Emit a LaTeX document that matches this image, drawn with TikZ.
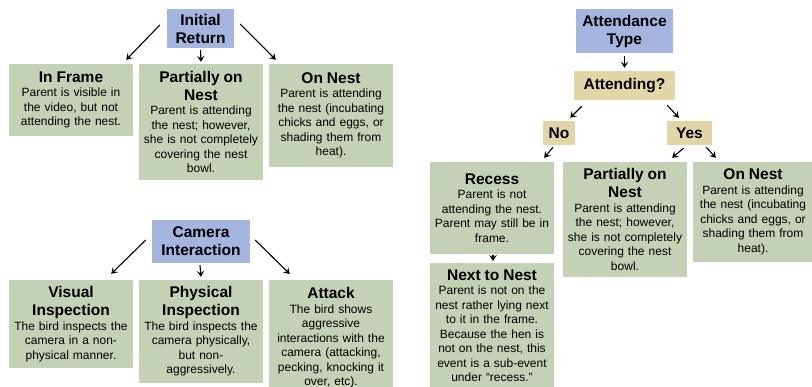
\documentclass[tikz,border=0pt]{standalone}
\usepackage{fontspec}
\setmainfont{Liberation Sans}
\usetikzlibrary{arrows.meta}
\definecolor{hdrblue}{RGB}{164,181,223}
\definecolor{boxgreen}{RGB}{197,209,181}
\definecolor{boxtan}{RGB}{227,214,166}
\newcommand\ttl[1]{{\fontsize{15.5}{18}\selectfont\bfseries #1\par}}
\tikzset{
  base/.style={inner sep=2pt, align=center, font=\fontsize{12}{14.5}\selectfont},
  hdr/.style={base, fill=hdrblue, font=\fontsize{15.5}{18}\selectfont\bfseries},
  qbox/.style={base, fill=boxtan, font=\fontsize{15.5}{18}\selectfont\bfseries},
  gbox/.style={base, fill=boxgreen, text width=120pt, inner sep=2pt},
  arr/.style={line width=1.1pt, -{Stealth[length=6pt,width=7.5pt,inset=2.5pt]}}
}
\begin{document}
\begin{tikzpicture}[x=1pt,y=-1pt]
\useasboundingbox (0,0) rectangle (812,386);
% ---------- Initial Return ----------
\node[hdr, minimum width=67pt, minimum height=39pt] (ir) at (200.5,28.5) {Initial\\Return};
\node[gbox, minimum height=72pt] (inframe) at (71,100) {\ttl{In Frame}Parent is visible in\\the video, but not\\attending the nest.};
\node[gbox, minimum height=116pt] (pon1) at (201,122) {\ttl{Partially on\\Nest}Parent is attending\\the nest; however,\\she is not completely\\covering the nest\\bowl.};
\node[gbox, minimum height=103pt] (on1) at (331,115.5) {\ttl{On Nest}Parent is attending\\the nest (incubating\\chicks and eggs, or\\shading them from\\heat).};
\draw[arr] ([shift={(-7,-3.5)}]ir.west) -- ([shift={(-7,-4)}]inframe.north east);
\draw[arr] ([shift={(0,2)}]ir.south) -- ([shift={(0,-2)}]pon1.north);
\draw[arr] ([shift={(6,-4.5)}]ir.east) -- ([shift={(7,-4)}]on1.north west);
% ---------- Camera Interaction ----------
\node[hdr, minimum width=98pt, minimum height=43pt] (ci) at (201,241.5) {Camera\\Interaction};
\node[gbox, minimum height=88pt] (vis) at (71,324) {\ttl{Visual\\Inspection}The bird inspects the\\camera in a non-\\physical manner.};
\node[gbox, minimum height=103pt] (phys) at (201,331.5) {\ttl{Physical\\Inspection}The bird inspects the\\camera physically,\\but non-\\aggressively.};
\node[gbox, anchor=north, inner ysep=7.5pt] (att) at (331,280) {\ttl{Attack}The bird shows\\aggressive\\interactions with the\\camera (attacking,\\pecking, knocking it\\over, etc).};
\draw[arr] ([shift={(-6,-1.5)}]ci.west) -- ([shift={(-22,-6)}]vis.north east);
\draw[arr] ([shift={(-1,2)}]ci.south) -- ([shift={(0,-3)}]phys.north);
\draw[arr] ([shift={(5,-1.5)}]ci.east) -- ([shift={(21,-6)}]att.north west);
% ---------- Attendance Type ----------
\node[hdr, minimum width=97pt, minimum height=44pt] (at) at (624.5,31) {Attendance\\Type};
\node[qbox, minimum width=101pt, minimum height=29pt] (atq) at (624.5,85.5) {Attending?};
\node[qbox, minimum width=32pt, minimum height=24pt, inner sep=1pt] (no) at (559,133) {No};
\node[qbox, minimum width=45pt, minimum height=24pt, inner sep=1pt] (yes) at (689.5,133) {Yes};
\node[gbox, minimum height=92pt] (rec) at (492,208) {\ttl{Recess}Parent is not\\attending the nest.\\Parent may still be in\\frame.};
\node[gbox, anchor=north, minimum height=125pt] (next) at (492,263) {\ttl{Next to Nest}Parent is not on the\\nest rather lying next\\to it in the frame.\\Because the hen is\\not on the nest, this\\event is a sub-event\\under “recess.”};
\node[gbox, minimum height=115pt] (pon2) at (625,219.5) {\ttl{Partially on\\Nest}Parent is attending\\the nest; however,\\she is not completely\\covering the nest\\bowl.};
\node[gbox, text width=116pt, minimum height=100pt] (on2) at (753,212) {\ttl{On Nest}Parent is attending\\the nest (incubating\\chicks and eggs, or\\shading them from\\heat).};
\draw[arr] ([shift={(0,3)}]at.south) -- ([shift={(0,-3)}]atq.north);
\draw[arr] ([shift={(8,6)}]atq.south west) -- ([shift={(-5,-3)}]no.north east);
\draw[arr] ([shift={(-8,5)}]atq.south east) -- ([shift={(12,-3)}]yes.north west);
\draw[arr] ([shift={(-6,2)}]no.south) -- ([shift={(-10,-4)}]rec.north east);
\draw[arr] ([shift={(-6,3)}]yes.south) -- ([shift={(-15,-4)}]pon2.north east);
\draw[arr] ([shift={(-6,2)}]yes.south east) -- ([shift={(23,-4)}]on2.north west);
\draw[arr] ([shift={(1,1)}]rec.south) -- ([shift={(1,-2)}]next.north);
\end{tikzpicture}
\end{document}
